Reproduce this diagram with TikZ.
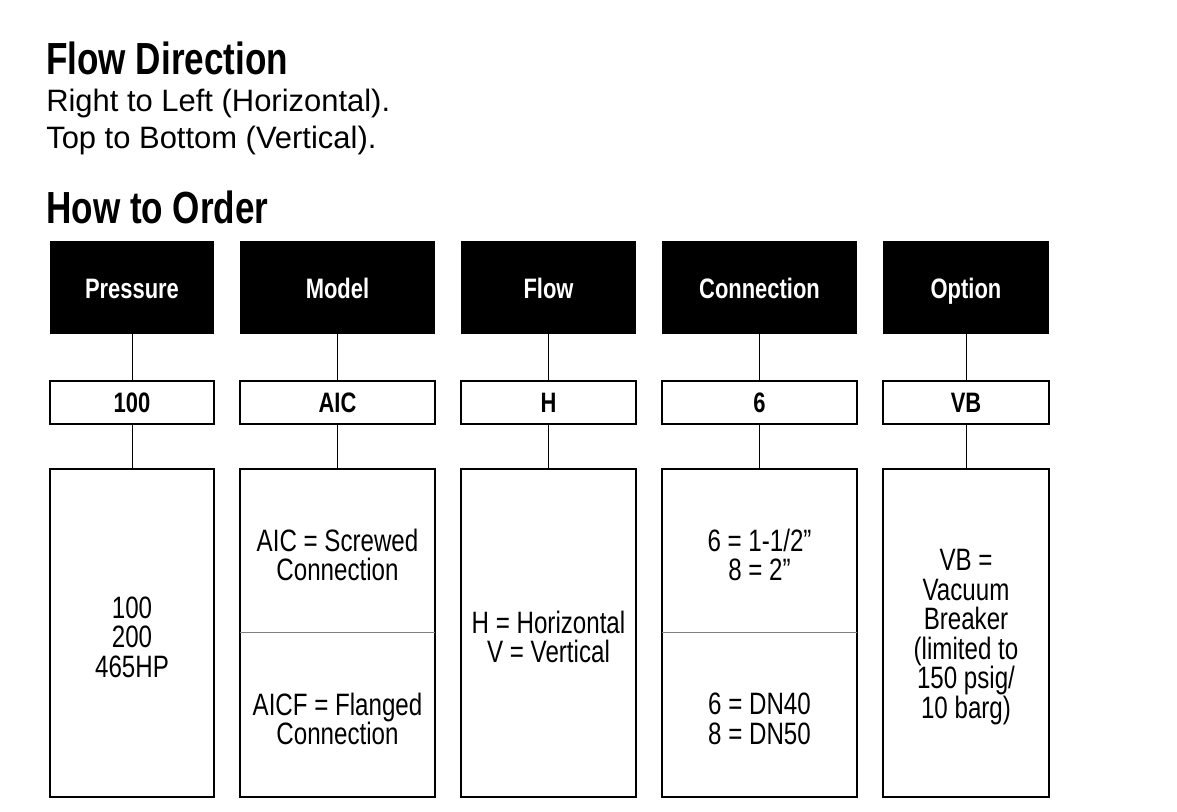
\documentclass[tikz,border=0pt]{standalone}
\usepackage{fontspec}
\setmainfont{Liberation Sans}
\newfontfamily\cond[FakeStretch=0.78]{Liberation Sans}
\begin{document}
\begin{tikzpicture}[x=0.025cm,y=-0.025cm,
    head/.style = {fill=black,text=white,font=\cond\bfseries\fontsize{20}{24}\selectfont},
    title/.style = {anchor=base west,inner sep=0pt,font=\cond\bfseries\fontsize{32}{36}\selectfont},
    body/.style = {anchor=base west,inner sep=0pt,font=\fontsize{22}{26}\selectfont},
    txt/.style = {align=center,font=\cond\fontsize{22}{21}\selectfont}]
    \useasboundingbox (0,0) rectangle (1177,811);
    % titles
    \node[title] (t1) at (46,74) {Flow Direction};
    \node[body] (t2) at (46,111) {Right to Left (Horizontal).};
    \node[body] (t3) at (46,148) {Top to Bottom (Vertical).};
    \node[title] (t4) at (46,223) {How to Order};
    % columns
    \foreach \n/\xa/\xb/\h/\v in {p/50/214/Pressure/100, m/240/435/Model/AIC, f/461/636/Flow/H,
                                  c/662/857/Connection/6, o/883/1049/Option/VB} {
        \path[fill=black] (\xa,241) rectangle (\xb,334);
        \node[head,anchor=base] (\n h) at ({(\xa+\xb)/2},298) {\h};
        \coordinate (\n hb) at ({(\xa+\xb)/2},334);
        \draw[line width=1.2pt] (\xa,381) rectangle (\xb,424);
        \node[anchor=base,font=\cond\bfseries\fontsize{20}{24}\selectfont] (\n v) at ({(\xa+\xb)/2},412) {\v};
        \coordinate (\n vt) at ({(\xa+\xb)/2},381);
        \coordinate (\n vb) at ({(\xa+\xb)/2},424);
        \coordinate (\n lt) at ({(\xa+\xb)/2},469);
        \draw[line width=1.2pt] (\xa,469) rectangle (\xb,797);
        \draw (\n hb) -- (\n vt);
        \draw (\n vb) -- (\n lt);
    }
    \draw[gray] (240,632) -- (435,632);
    \draw[gray] (662,632) -- (857,632);
    % descriptions
    \node[txt] (pd) at (132,637) {100\\200\\465HP};
    \node[txt] (md1) at (337.5,555) {AIC = Screwed\\Connection};
    \node[txt] (md2) at (337.5,719) {AICF = Flanged\\Connection};
    \node[txt] (fd) at (548.5,637) {H = Horizontal\\V = Vertical};
    \node[txt] (cd1) at (759.5,555) {6 = 1-1/2”\\8 = 2”};
    \node[txt] (cd2) at (759.5,719) {6 = DN40\\8 = DN50};
    \node[txt] (od) at (966,637) {VB =\\Vacuum\\Breaker\\(limited to\\150 psig/\\10 barg)};
\end{tikzpicture}
\end{document}
